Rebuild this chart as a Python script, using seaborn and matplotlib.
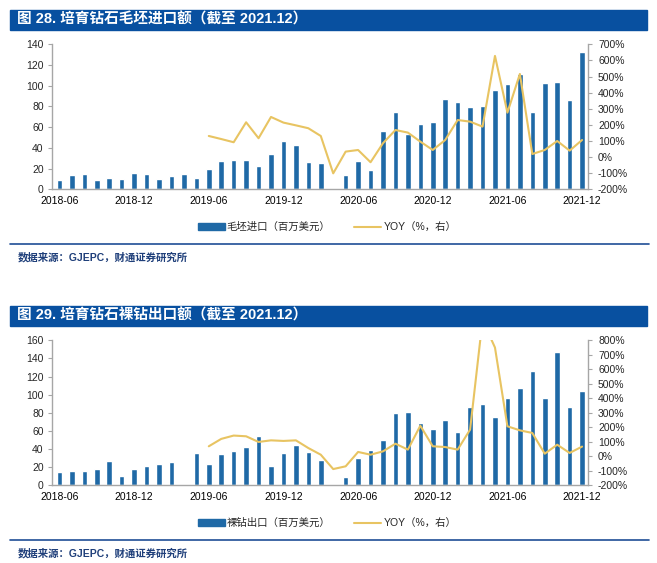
import numpy as np
import pandas as pd
import matplotlib
matplotlib.use("Agg")
import matplotlib.pyplot as plt
import seaborn as sns
from matplotlib.patches import Rectangle
from matplotlib.lines import Line2D

# ------------------------------
# DATA
# ------------------------------
months = pd.period_range("2018-06", "2021-12", freq="M").strftime("%Y-%m").tolist()
tick_labels = ["2018-06", "2018-12", "2019-06", "2019-12",
               "2020-06", "2020-12", "2021-06", "2021-12"]

# 毛坯进口（百万美元）
rough_import = [9.0, 13.8, 14.8, 9.3, 11.3, 10.3, 15.4, 15.1, 10.3, 12.9, 15.1, 11.3,
                20.0, 27.0, 28.3, 28.6, 22.9, 33.8, 46.3, 43.1, 26.1, 25.7,
                0.0, 13.8, 27.4, 18.7, 56.3, 75.0, 53.1, 63.1, 65.3, 87.2, 84.6,
                79.5, 80.8, 95.6, 101.7, 111.4, 74.3, 102.7, 103.6, 86.3, 132.9]
rough_yoy = [np.nan] * 12 + [131, 112, 92, 216, 117, 249, 214, 197, 179, 131,
                             -101, 34, 44, -32, 86, 168, 152, 96, 44, 106, 230,
                             220, 189, 628, 276, 516, 19, 44, 100, 40, 106]

# 裸钻出口（百万美元）
polished_export = [15.1, 16.2, 15.8, 18.0, 27.2, 10.7, 17.7, 21.3, 23.9, 25.4, 0.7, 35.7,
                   23.9, 34.6, 37.5, 42.7, 54.1, 21.7, 36.0, 44.1, 37.1, 28.0,
                   0.7, 9.2, 29.8, 39.0, 50.4, 79.8, 80.9, 69.1, 62.5, 72.1, 58.8,
                   86.4, 90.1, 75.0, 96.0, 107.8, 126.5, 96.0, 146.7, 86.1, 103.7]
polished_yoy = [np.nan] * 12 + [69, 120, 143, 138, 99, 110, 106, 110, 57, 11,
                                -88, -69, 30, 11, 34, 87, 46, 211, 69, 64, 46,
                                184, 940, 750, 207, 179, 161, 18, 80, 23, 67]

# ------------------------------
# STYLE
# ------------------------------
BAR_COLOR = "#1F69A6"
LINE_COLOR = "#E8C462"
HEAD_COLOR = "#0850A0"
RULE_COLOR = "#1F4E96"
SPINE_COLOR = "#A6A6A6"
SOURCE_COLOR = "#1F3F7A"

sns.set_theme(style="white")
plt.rcParams['font.family'] = ['Liberation Sans', 'Noto Sans CJK SC', 'DejaVu Sans']
plt.rcParams['axes.unicode_minus'] = False

W, H = 657, 563
fig = plt.figure(figsize=(W / 100, H / 100), dpi=100)


def fx(px):
    return px / W


def fy(py):
    return 1 - py / H


def draw_panel(off, title, bar_label, values, yoy, left_max, right_max):
    # header bar
    fig.patches.append(Rectangle((fx(10), fy(off + 29.5)), fx(637), 20 / H,
                                 transform=fig.transFigure, color=HEAD_COLOR, zorder=0))
    fig.text(fx(17), fy(off + 19.5), title, color="white", fontsize=10.5,
             fontweight="bold", va="center", ha="left")

    ax = fig.add_axes([fx(52), fy(off + 189.3), fx(588.3 - 52), 145 / H])
    df = pd.DataFrame({"month": months, "value": values, "yoy": yoy,
                       "pos": np.arange(len(months))})
    sns.barplot(data=df, x="month", y="value", color=BAR_COLOR, saturation=1,
                width=0.45, ax=ax, label=bar_label)
    ax.set_xlim(-0.6, len(months) - 0.5)
    ax.set_ylim(0, left_max)
    ax.set_yticks(np.arange(0, left_max + 1, 20))
    ax.set_xticks(np.arange(0, len(months), 6))
    ax.set_xticklabels(tick_labels)
    ax.set_xlabel("")
    ax.set_ylabel("")
    ax.tick_params(axis="x", length=0, pad=5, labelsize=7.5, colors="black")
    ax.tick_params(axis="y", length=3, width=0.8, color=SPINE_COLOR, pad=3,
                   labelsize=7.5, left=True)

    ax2 = ax.twinx()
    sns.lineplot(data=df.dropna(subset=["yoy"]), x="pos", y="yoy", color=LINE_COLOR,
                 lw=1.5, ax=ax2, label="YOY（%，右）")
    ax2.set_ylim(-200, right_max)
    rt = np.arange(-200, right_max + 1, 100)
    ax2.set_yticks(rt)
    ax2.set_yticklabels([f"{v}%" for v in rt])
    ax2.set_ylabel("")
    ax2.tick_params(axis="y", length=3, width=0.8, color=SPINE_COLOR, pad=4,
                    labelsize=7.5, right=True)

    for a in (ax, ax2):
        for s in a.spines.values():
            s.set_visible(False)
    ax.spines["left"].set_visible(True)
    ax.spines["bottom"].set_visible(True)
    ax2.spines["right"].set_visible(True)
    for s in (ax.spines["left"], ax.spines["bottom"], ax2.spines["right"]):
        s.set_color(SPINE_COLOR)
        s.set_linewidth(1.0)

    h1, l1 = ax.get_legend_handles_labels()
    h2, l2 = ax2.get_legend_handles_labels()
    for a in (ax, ax2):
        if a.get_legend() is not None:
            a.get_legend().remove()
    handles = [Rectangle((0, 0), 1, 1, color=BAR_COLOR),
               Line2D([0], [0], color=LINE_COLOR, lw=1.5)]
    fig.legend(handles, [bar_label, "YOY（%，右）"], loc="center",
               bbox_to_anchor=(fx(327), fy(off + 227)), ncol=2, frameon=False,
               fontsize=7.5, handlelength=2.6, handleheight=0.6,
               handletextpad=0.2, columnspacing=2.3)

    # rule + source
    fig.add_artist(Line2D([fx(10), fx(649)], [fy(off + 244)] * 2, color=RULE_COLOR,
                          lw=1.2, transform=fig.transFigure))
    fig.text(fx(18), fy(off + 257), "数据来源：GJEPC，财通证券研究所", color=SOURCE_COLOR,
             fontsize=7.5, fontweight="bold", va="center", ha="left")


draw_panel(0, "图 28. 培育钻石毛坯进口额（截至 2021.12）", "毛坯进口（百万美元）",
           rough_import, rough_yoy, 140, 700)
draw_panel(296, "图 29. 培育钻石裸钻出口额（截至 2021.12）", "裸钻出口（百万美元）",
           polished_export, polished_yoy, 160, 800)

fig.savefig("out.png", dpi=100)
